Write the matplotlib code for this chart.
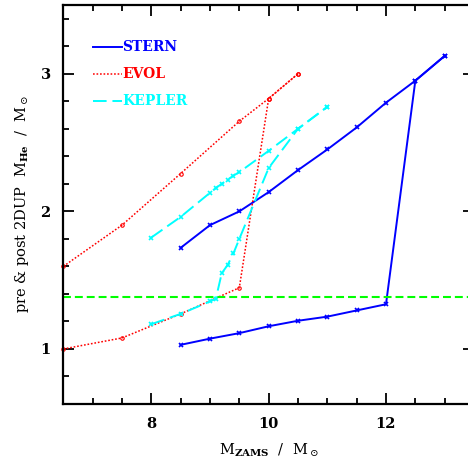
import numpy as np
import matplotlib
matplotlib.use("Agg")
import matplotlib.pyplot as plt
from matplotlib.ticker import MultipleLocator

plt.rcParams['font.family'] = 'DejaVu Serif'
plt.rcParams['mathtext.fontset'] = 'dejavuserif'

# helium core mass before (upper branch) and after (lower branch) 2nd dredge-up
stern_m = [8.5, 9.0, 9.5, 10.0, 10.5, 11.0, 11.5, 12.0, 12.5, 13.0]
stern_pre = [1.735, 1.90, 2.00, 2.14, 2.30, 2.45, 2.61, 2.79, 2.95, 3.13]
stern_post = [1.03, 1.075, 1.115, 1.165, 1.205, 1.235, 1.28, 1.325, 2.95, 3.13]

evol_m = [6.5, 7.5, 8.5, 9.5, 10.0, 10.5]
evol_pre = [1.60, 1.90, 2.275, 2.655, 2.82, 3.00]
evol_post = [1.00, 1.08, 1.255, 1.445, 2.82, 3.00]

kepler_m = [8.0, 8.5, 9.0, 9.1, 9.2, 9.3, 9.4, 9.5, 10.0, 10.5, 11.0]
kepler_pre = [1.81, 1.96, 2.135, 2.17, 2.20, 2.23, 2.26, 2.285, 2.44, 2.60, 2.76]
kepler_post = [1.18, 1.255, 1.345, 1.365, 1.55, 1.61, 1.695, 1.80, 2.315, 2.60, 2.76]

m_threshold = 1.38

dpi = 100
fig = plt.figure(figsize=(4.68, 4.70), dpi=dpi)
# right edge of the frame lies just past the figure border
ax = fig.add_axes([63.3 / 468, 66 / 470, 410.7 / 468, 399 / 470])

stern_kw = dict(color='#0000ff', lw=1.4, ls='-', marker='x', ms=3.5, mew=1.2)
evol_kw = dict(color='#ff0000', lw=1.1, ls=(0, (1.1, 1.2)), marker='o', ms=2.5,
               mew=0.8, fillstyle='none')
kepler_kw = dict(color='#00ffff', lw=1.4, ls=(0, (7, 3)), marker='x', ms=3.5, mew=1.2)

ax.plot(stern_m, stern_pre, **stern_kw)
ax.plot(stern_m, stern_post, **stern_kw)
ax.plot(evol_m, evol_pre, clip_on=False, **evol_kw)
ax.plot(evol_m, evol_post, clip_on=False, **evol_kw)
ax.plot(kepler_m, kepler_pre, **kepler_kw)
ax.plot(kepler_m, kepler_post, **kepler_kw)

ax.axhline(m_threshold, color='#00ff00', lw=1.5, ls=(0, (3.8, 1.9)))

ax.set_xlim(6.5, 13.5)
ax.set_ylim(0.6, 3.5)

# legend drawn by hand: short line sample followed by coloured name
legend = [('STERN', stern_kw), ('EVOL', evol_kw), ('KEPLER', kepler_kw)]
for i, (name, kw) in enumerate(legend):
    y = 0.8955 - i * 0.0685
    ax.plot([0.072, 0.143], [y, y], transform=ax.transAxes, color=kw['color'],
            lw=kw['lw'], ls=kw['ls'])
    ax.text(0.143, y, name, transform=ax.transAxes, color=kw['color'],
            fontsize=10, fontweight='bold', va='center', ha='left')

ax.xaxis.set_major_locator(MultipleLocator(2))
ax.xaxis.set_minor_locator(MultipleLocator(0.5))
ax.yaxis.set_major_locator(MultipleLocator(1))
ax.yaxis.set_minor_locator(MultipleLocator(0.2))
ax.tick_params(which='both', direction='in', top=True, right=True, width=1.3,
               labelsize=10.5)
ax.tick_params(which='major', length=8, pad=9)
ax.tick_params(which='minor', length=4)
for lab in ax.get_xticklabels() + ax.get_yticklabels():
    lab.set_fontweight('bold')
for s in ax.spines.values():
    s.set_linewidth(1.6)
ax.spines['right'].set_visible(False)

ax.set_xlabel(r'M$_{\mathbf{ZAMS}}$  /  M$_\odot$', fontsize=10.5, labelpad=8)
ax.set_ylabel(r'pre & post 2DUP  M$_{\mathbf{He}}$  /  M$_\odot$', fontsize=10.5,
              labelpad=7)

fig.savefig('out.png', dpi=dpi)
